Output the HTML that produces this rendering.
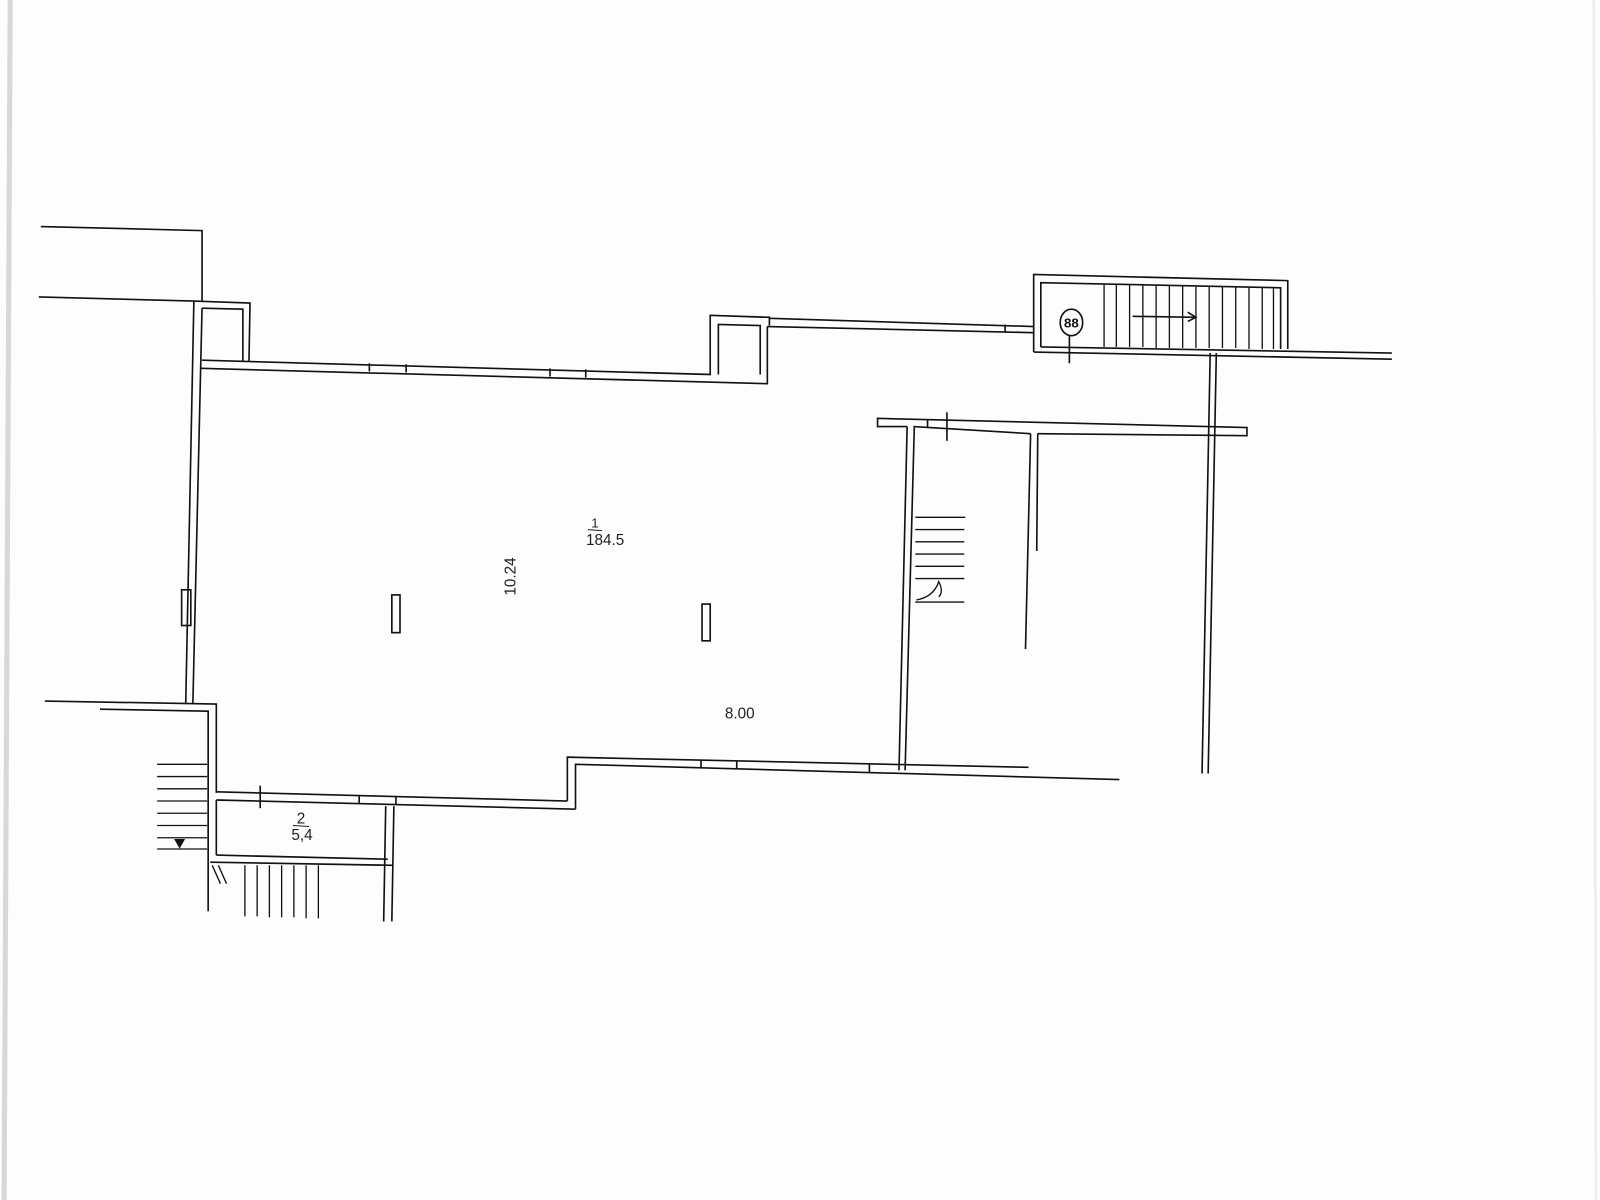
<!DOCTYPE html>
<html><head><style>html,body{margin:0;padding:0;background:#fdfdfd;}svg{display:block}</style></head>
<body>
<svg width="1600" height="1200" viewBox="0 0 1568 1176" xmlns="http://www.w3.org/2000/svg" fill="none" stroke="#111" stroke-width="1.6">
<rect x="0" y="0" width="1568" height="1176" fill="#fdfdfd" stroke="none"/>
<line x1="10" y1="0" x2="4" y2="1176" stroke="#d8d8d8" stroke-width="5"/>
<line x1="1562" y1="0" x2="1564" y2="1176" stroke="#eee" stroke-width="3"/>
<!-- top-left outside lines -->
<polyline points="40,222 198,226 198,296"/>
<line x1="38" y1="291" x2="190" y2="295"/>
<!-- left wall -->
<polyline points="190,295 245,297 244,354"/>
<polyline points="198,302 238,303 238,354"/>
<line x1="190" y1="295" x2="182" y2="690"/>
<line x1="198" y1="302" x2="189" y2="690"/>
<rect x="178" y="578" width="9" height="35"/>
<!-- top wall -->
<polyline points="198,353 696,367 696,309 754,311 754,319"/>
<polyline points="197,361 752,376 752,320"/>
<polyline points="704,367 704,318 745,319 745,367"/>
<line x1="754" y1="312" x2="1013" y2="320"/>
<line x1="752" y1="320" x2="1013" y2="326"/>
<line x1="985" y1="318" x2="985" y2="326"/>
<line x1="362" y1="356" x2="362" y2="364"/><line x1="398" y1="357" x2="398" y2="365"/>
<line x1="539" y1="361" x2="539" y2="369"/><line x1="574" y1="362" x2="574" y2="370"/>
<!-- stair box top right -->
<polyline points="1013,345 1013,269 1262,275 1262,342"/>
<polyline points="1020,340 1020,277 1255,282 1255,342"/>
<line x1="1013" y1="345" x2="1364" y2="352"/>
<line x1="1020" y1="340" x2="1364" y2="346"/>
<g stroke-width="1.3">
<line x1="1082" y1="279" x2="1082" y2="340"/><line x1="1094" y1="279" x2="1094" y2="340"/>
<line x1="1107" y1="279" x2="1107" y2="340"/><line x1="1120" y1="279" x2="1120" y2="340"/>
<line x1="1133" y1="280" x2="1133" y2="341"/><line x1="1146" y1="280" x2="1146" y2="341"/>
<line x1="1159" y1="280" x2="1159" y2="341"/><line x1="1172" y1="281" x2="1172" y2="341"/>
<line x1="1185" y1="281" x2="1185" y2="341"/><line x1="1198" y1="281" x2="1198" y2="341"/>
<line x1="1211" y1="281" x2="1211" y2="341"/><line x1="1224" y1="282" x2="1224" y2="342"/>
<line x1="1237" y1="282" x2="1237" y2="342"/><line x1="1248" y1="282" x2="1248" y2="342"/>
</g>
<line x1="1110" y1="310" x2="1172" y2="311"/>
<polyline points="1164,306 1172,311 1164,315"/>
<ellipse cx="1050" cy="316" rx="11" ry="13"/>
<text x="1050" y="321" font-family="Liberation Sans, sans-serif" font-size="13" font-weight="bold" fill="#111" stroke="none" text-anchor="middle">88</text>
<line x1="1048" y1="329" x2="1048" y2="356"/>
<!-- long right vertical -->
<line x1="1192" y1="346" x2="1184" y2="758"/>
<line x1="1186" y1="346" x2="1178" y2="758"/>
<!-- middle horizontal wall -->
<polyline points="889,418 860,418 860,410 1222,419 1222,427 1017,425"/>
<line x1="895" y1="418" x2="1010" y2="425"/>
<line x1="928" y1="404" x2="928" y2="432"/>
<line x1="909" y1="411" x2="909" y2="419"/>
<!-- vertical inner wall -->
<line x1="889" y1="418" x2="881" y2="755"/>
<line x1="896" y1="419" x2="887" y2="755"/>
<line x1="1010" y1="425" x2="1005" y2="636"/>
<line x1="1017" y1="425" x2="1016" y2="540"/>
<!-- stairs middle -->
<g stroke-width="1.3">
<line x1="897" y1="507" x2="946" y2="507"/><line x1="897" y1="519" x2="945" y2="519"/>
<line x1="897" y1="531" x2="945" y2="531"/><line x1="897" y1="543" x2="945" y2="543"/>
<line x1="897" y1="555" x2="945" y2="555"/><line x1="897" y1="567" x2="945" y2="567"/>
<line x1="897" y1="590" x2="945" y2="590"/>
<path d="M898,588 Q915,585 920,570 Q925,580 920,585"/>
</g>
<!-- bottom wall -->
<line x1="212" y1="776" x2="556" y2="785"/>
<line x1="212" y1="784" x2="564" y2="793"/>
<polyline points="556,785 556,742 1008,752"/>
<polyline points="564,793 564,749 1097,764"/>
<line x1="255" y1="770" x2="255" y2="792"/>
<line x1="352" y1="780" x2="352" y2="788"/><line x1="388" y1="781" x2="388" y2="789"/>
<line x1="687" y1="745" x2="687" y2="752"/><line x1="722" y1="746" x2="722" y2="753"/>
<line x1="852" y1="749" x2="852" y2="757"/>
<!-- left lower -->
<polyline points="44,687 212,690 212,777"/>
<polyline points="98,695 204,697 204,893"/>
<line x1="212" y1="784" x2="212" y2="838"/>
<line x1="212" y1="838" x2="380" y2="842"/>
<line x1="206" y1="845" x2="385" y2="848"/>
<line x1="378" y1="790" x2="376" y2="903"/>
<line x1="386" y1="790" x2="384" y2="903"/>
<g stroke-width="1.3">
<line x1="154" y1="749" x2="203" y2="749"/><line x1="154" y1="761" x2="203" y2="761"/>
<line x1="154" y1="773" x2="203" y2="773"/><line x1="154" y1="785" x2="203" y2="785"/>
<line x1="154" y1="797" x2="203" y2="797"/><line x1="154" y1="809" x2="203" y2="809"/>
<line x1="154" y1="821" x2="203" y2="821"/><line x1="154" y1="832" x2="203" y2="832"/>
<line x1="240" y1="848" x2="240" y2="898"/><line x1="252" y1="848" x2="252" y2="898"/>
<line x1="264" y1="848" x2="264" y2="899"/><line x1="276" y1="848" x2="276" y2="899"/>
<line x1="288" y1="848" x2="288" y2="899"/><line x1="300" y1="848" x2="300" y2="900"/>
<line x1="312" y1="848" x2="312" y2="900"/>
<line x1="208" y1="848" x2="216" y2="866"/><line x1="214" y1="848" x2="222" y2="866"/>
</g>
<path d="M172,823 L180,823 L176,830 Z" fill="#111"/>
<!-- columns -->
<rect x="384" y="583" width="8" height="37"/>
<rect x="688" y="592" width="8" height="36"/>
<!-- labels -->
<g font-family="Liberation Sans, sans-serif" fill="#222" stroke="none" font-size="15">
<text x="583" y="517" text-anchor="middle" font-size="13">1</text>
<line x1="576" y1="519" x2="590" y2="520" stroke="#222" stroke-width="1"/>
<text x="593" y="534" text-anchor="middle">184.5</text>
<text x="0" y="0" text-anchor="middle" transform="translate(505,565) rotate(-90)">10.24</text>
<text x="725" y="704" text-anchor="middle">8.00</text>
<text x="295" y="807" text-anchor="middle">2</text>
<line x1="287" y1="809" x2="303" y2="810" stroke="#222" stroke-width="1"/>
<text x="296" y="823" text-anchor="middle">5,4</text>
</g>
</svg>
</body></html>
